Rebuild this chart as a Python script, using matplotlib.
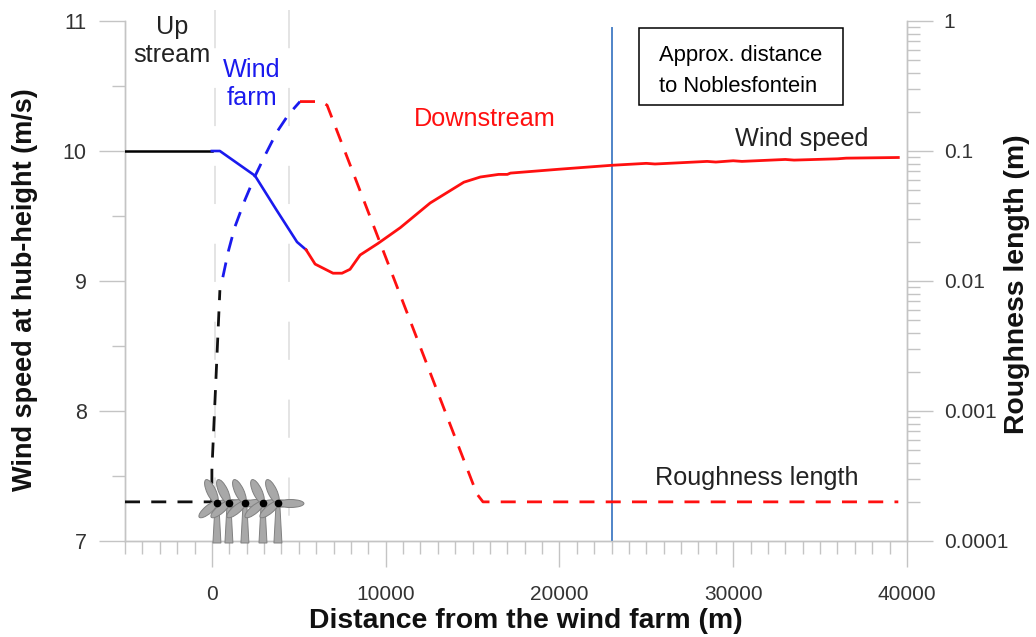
"""Wind speed and roughness length along the distance from a wind farm."""
import matplotlib
matplotlib.use("Agg")
import numpy as np
import matplotlib.pyplot as plt
from matplotlib.patches import Ellipse, Polygon, Rectangle
from matplotlib.ticker import FixedLocator, FixedFormatter, NullFormatter

W, H = 1036, 637
plt.rcParams["font.family"] = ["Liberation Sans", "DejaVu Sans"]

# wind speed at hub height
up_x = [-5000, 0]
up_speed = [10.0, 10.0]
farm_x = [0, 460, 2480, 3700, 4900, 5420]
farm_speed = [10.0, 10.0, 9.81, 9.55, 9.30, 9.24]
down_x = [5420, 5940, 6970, 7490, 7950, 8530, 9570, 10840, 12560, 14500, 15450,
          16500, 17000, 17180, 20000, 23000, 25000, 25500, 28500, 29000, 30000,
          30500, 33000, 33500, 36000, 36500, 39500]
down_speed = [9.24, 9.13, 9.06, 9.06, 9.09, 9.20, 9.29, 9.41, 9.60, 9.76, 9.80,
              9.82, 9.82, 9.83, 9.86, 9.89, 9.905, 9.90, 9.92, 9.915, 9.925,
              9.92, 9.935, 9.93, 9.94, 9.945, 9.95]

# roughness length
z_up_x = [-5000, 0, 0, 460]
z_up = [0.0002, 0.0002, 0.00035, 0.0085]
z_farm_x = [630, 950, 1320, 1900, 2480, 3100, 3740, 4400, 5070]
z_farm = [0.0107, 0.017, 0.026, 0.042, 0.064, 0.095, 0.14, 0.19, 0.24]
z_down_x = [5070, 6300, 6630, 15250, 15600, 39500]
z_down = [0.24, 0.24, 0.225, 0.00023, 0.0002, 0.0002]

site_x = 23000
zone_edges = [170, 4430]
turbine_x = [290, 980, 1900, 2940, 3800]

x_major = [0, 10000, 20000, 30000, 40000]
x_minor = np.arange(-5000, 40001, 1000)
y_major = [7, 8, 9, 10, 11]
y_minor = [7.5, 8.5, 9.5, 10.5]
z_major = [0.0001, 0.001, 0.01, 0.1, 1]
z_labels = ["0.0001", "0.001", "0.01", "0.1", "1"]

GREY = "#c4c4c4"
TEXT = "#333333"
RED = "#ff1010"
BLUE = "#1a1aee"
DASH = (0, (5.4, 4.05))

L, R, T, B = 125, 907, 21, 541
fig = plt.figure(figsize=(W / 100, H / 100), dpi=100)
rect = [L / W, 1 - B / H, (R - L) / W, (B - T) / H]
ax = fig.add_axes(rect)
ax2 = ax.twinx()
ax.set_zorder(2)
ax.patch.set_visible(False)

ax.set_xlim(-5000, 40000)
ax.set_ylim(7, 11)
ax2.set_yscale("log")
ax2.set_ylim(1e-4, 1)

for a in (ax, ax2):
    for side, sp in a.spines.items():
        sp.set_color(GREY)
        sp.set_linewidth(1.0)
    a.spines["top"].set_visible(False)

ax.xaxis.set_major_locator(FixedLocator(x_major))
ax.xaxis.set_minor_locator(FixedLocator(x_minor))
ax.yaxis.set_major_locator(FixedLocator(y_major))
ax.yaxis.set_minor_locator(FixedLocator(y_minor))
ax.tick_params(axis="x", which="major", length=18.5, width=1, color=GREY,
               labelsize=15, labelcolor=TEXT, pad=13)
ax.tick_params(axis="x", which="minor", length=9.5, width=1, color=GREY)
ax.tick_params(axis="y", which="major", length=18.5, width=1, color=GREY,
               labelsize=15.5, labelcolor=TEXT, pad=9)
ax.tick_params(axis="y", which="minor", length=9.5, width=1, color=GREY)

ax2.yaxis.set_major_locator(FixedLocator(z_major))
ax2.yaxis.set_major_formatter(FixedFormatter(z_labels))
ax2.yaxis.set_minor_locator(FixedLocator(
    [m * 10.0 ** e for e in range(-4, 0) for m in range(2, 10)]))
ax2.yaxis.set_minor_formatter(NullFormatter())
ax2.tick_params(axis="y", which="major", length=18.5, width=1, color=GREY,
                labelsize=15, labelcolor=TEXT, pad=8)
ax2.tick_params(axis="y", which="minor", length=9.5, width=1, color=GREY)

# faint dashed edges of the wind farm zone
for xe in zone_edges:
    ax.plot([xe, xe], [11.085, 7.185], color="#dddddd", lw=1.1,
            linestyle=(0, (25, 26)), clip_on=False, zorder=1)

ax.axvline(site_x, ymin=0, ymax=(B - 28) / (B - T), color="#4f84c8", lw=1.4, zorder=2)

ax.plot(up_x, up_speed, color="black", lw=1.8, zorder=3)
ax.plot(farm_x, farm_speed, color=BLUE, lw=1.9, zorder=3)
ax.plot(down_x, down_speed, color=RED, lw=2.0, zorder=3)

# roughness is on the log axis but drawn above the other axes' background
to_left = lambda z: 7 + (np.log10(z) + 4)
ax.plot(z_up_x, to_left(np.array(z_up)), color="#111111", lw=2, linestyle=DASH, zorder=3)
ax.plot(z_farm_x, to_left(np.array(z_farm)), color=BLUE, lw=2, linestyle=DASH, zorder=3)
ax.plot(z_down_x, to_left(np.array(z_down)), color=RED, lw=2, linestyle=DASH, zorder=3)

# overlay in pixel coordinates for the free text and the turbine icons
ov = fig.add_axes([0, 0, 1, 1], zorder=5)
ov.set_xlim(0, W)
ov.set_ylim(H, 0)
ov.axis("off")
ov.patch.set_visible(False)


def draw_turbine(ov, px, py):
    face, edge = "#a8a8a8", "#808080"
    ov.add_patch(Polygon([(px - 1.8, py), (px + 1.8, py), (px + 4, 543), (px - 4, 543)],
                         closed=True, fc=face, ec=edge, lw=0.7, zorder=6))
    ov.add_patch(Ellipse((px - 5.5, py - 11), 9, 26, angle=-25, fc=face, ec=edge, lw=0.7, zorder=6))
    ov.add_patch(Ellipse((px - 8.5, py + 7), 8, 24, angle=50, fc=face, ec=edge, lw=0.7, zorder=6))
    ov.add_patch(Ellipse((px + 12.5, py + 1), 27, 8, fc=face, ec=edge, lw=0.7, zorder=6))
    ov.plot([px], [py], "o", color="black", ms=4.5, zorder=7)


for tx in turbine_x:
    draw_turbine(ov, L + (tx + 5000) / 45000 * (R - L), 502.5)

ov.add_patch(Rectangle((639, 28), 204, 77, fc="white", ec="black", lw=1.1, zorder=6))
ov.text(741, 55, "Approx. distance", ha="center", va="center", fontsize=15.8,
        color="black", zorder=7)
ov.text(738, 86, "to Noblesfontein", ha="center", va="center", fontsize=15.8,
        color="black", zorder=7)

ov.text(172, 27, "Up", ha="center", va="center", fontsize=18.2, color="#222222")
ov.text(172, 55, "stream", ha="center", va="center", fontsize=18.2, color="#222222")
ov.text(252, 70, "Wind", ha="center", va="center", fontsize=18.2, color=BLUE)
ov.text(252, 98, "farm", ha="center", va="center", fontsize=18.2, color=BLUE)
ov.text(485, 119, "Downstream", ha="center", va="center", fontsize=18.2, color=RED)
ov.text(802, 139, "Wind speed", ha="center", va="center", fontsize=18.2, color="#222222")
ov.text(757, 478, "Roughness length", ha="center", va="center", fontsize=18.2, color="#222222")

ov.text(526, 621, "Distance from the wind farm (m)", ha="center", va="center",
        fontsize=20.4, fontweight="bold", color="#111111")
ov.text(25, 290, "Wind speed at hub-height (m/s)", ha="center", va="center",
        rotation=90, fontsize=19.5, fontweight="bold", color="#111111")
ov.text(1017, 284, "Roughness length (m)", ha="center", va="center",
        rotation=90, fontsize=20.4, fontweight="bold", color="#111111")

fig.savefig("out.png", dpi=100)
